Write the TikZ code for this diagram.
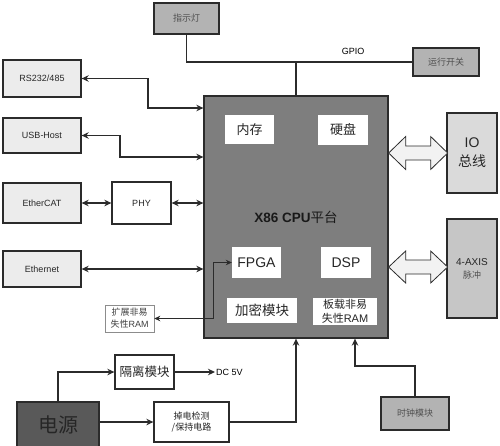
\documentclass[tikz,border=0pt]{standalone}
\usepackage{fontspec}
\setmainfont{Liberation Sans}
\newfontfamily\cjk{Noto Sans CJK SC}
\usetikzlibrary{arrows.meta,calc}
\definecolor{cpugray}{HTML}{7E7E7E}
\definecolor{pwrgray}{HTML}{595959}
\definecolor{midgray}{HTML}{B3B3B3}
\definecolor{axisgray}{HTML}{C6C6C6}
\definecolor{iogray}{HTML}{DADADA}
\definecolor{lightfill}{HTML}{ECECEC}
\definecolor{arrowfill}{HTML}{F2F2F2}
\definecolor{linecol}{HTML}{2B2B2B}
\definecolor{dimtext}{HTML}{505050}
\tikzset{
  box/.style={draw=linecol, line width=1.3pt, inner sep=0pt, align=center, text=black!85},
  lbox/.style={box, fill=lightfill, font=\fontsize{9}{11}\selectfont},
  gbox/.style={box, fill=midgray, text=dimtext, font=\fontsize{9}{11}\selectfont},
  inbox/.style={fill=white, inner sep=0pt, align=center, text=black!85},
  conn/.style={draw=linecol, line width=1.2pt},
  bi/.style={conn, {Stealth[length=7pt,width=6.5pt]}-{Stealth[length=7pt,width=6.5pt]}},
  uni/.style={conn, -{Stealth[length=7pt,width=6.5pt]}},
  thinbi/.style={draw=linecol, line width=0.8pt, {Stealth[length=6pt,width=5.5pt]}-{Stealth[length=6pt,width=5.5pt]}},
  blockarrow/.style={draw=linecol, line width=0.8pt, fill=arrowfill, line join=miter}
}
\begin{document}
\begin{tikzpicture}[x=1pt,y=-1pt]
\fill[white] (0,0) rectangle (500,445);
\useasboundingbox (0,0) rectangle (500,445);

% CPU platform
\node[box, fill=cpugray, minimum width=184pt, minimum height=242pt,
      font=\fontsize{13.5}{16}\selectfont, text=black!90] (cpu) at (296,217)
      {\textbf{X86 CPU}{\cjk 平台}};
\node[inbox, minimum width=49pt, minimum height=29pt, font=\cjk\fontsize{13}{15}\selectfont] (mem) at (249.5,129.5) {内存};
\node[inbox, minimum width=50pt, minimum height=30pt, font=\cjk\fontsize{13}{15}\selectfont] (hdd) at (343,130) {硬盘};
\node[inbox, minimum width=49pt, minimum height=31pt, font=\fontsize{14}{16}\selectfont] (fpga) at (256.5,262.5) {FPGA};
\node[inbox, minimum width=50pt, minimum height=31pt, font=\fontsize{14}{16}\selectfont] (dsp) at (346,262.5) {DSP};
\node[inbox, minimum width=70pt, minimum height=25pt, font=\cjk\fontsize{13.5}{15}\selectfont] (enc) at (262,310.5) {加密模块};
\node[inbox, minimum width=64pt, minimum height=27pt, font=\fontsize{11}{14}\selectfont] (nvram) at (345,311.5) {{\cjk 板载非易}\\{\cjk 失性}RAM};

% top
\node[gbox, minimum width=65pt, minimum height=31pt] (led) at (186.5,18.5) {\cjk 指示灯};
\node[gbox, minimum width=66pt, minimum height=28pt] (run) at (446,62) {\cjk 运行开关};
\node[font=\fontsize{9}{11}\selectfont, inner sep=1pt] (gpio) at (353,51) {GPIO};

% left
\node[lbox, minimum width=78pt, minimum height=37pt] (rs) at (42,78.5) {RS232/485};
\node[lbox, minimum width=78pt, minimum height=35pt] (usb) at (42,135.5) {USB-Host};
\node[lbox, minimum width=78pt, minimum height=40pt] (ecat) at (42,203) {EtherCAT};
\node[box, fill=white, minimum width=59pt, minimum height=42pt, font=\fontsize{9}{11}\selectfont] (phy) at (141.5,203) {PHY};
\node[lbox, minimum width=78pt, minimum height=36pt] (eth) at (42,269) {Ethernet};
\node[draw=black!45, line width=0.6pt, fill=white, inner sep=0pt, align=center, text=black!75,
      minimum width=49pt, minimum height=27pt, font=\fontsize{9}{12}\selectfont] (xram) at (129.5,318.5)
      {{\cjk 扩展非易}\\{\cjk 失性}RAM};

% right
\node[box, fill=iogray, minimum width=50pt, minimum height=80pt, font=\fontsize{14}{19}\selectfont] (io) at (472,153) {IO\\{\cjk 总线}};
\node[box, fill=axisgray, minimum width=50pt, minimum height=99pt, font=\fontsize{10}{13}\selectfont] (axis) at (472,268.5)
      {4-AXIS\\{\cjk\fontsize{9}{13}\selectfont\color{dimtext} 脉冲}};

% bottom
\node[box, fill=white, minimum width=59pt, minimum height=34pt, font=\cjk\fontsize{12.5}{15}\selectfont] (iso) at (144.5,372) {隔离模块};
\node[font=\fontsize{9}{11}\selectfont, anchor=west, inner sep=1pt] (dc) at (215,372) {DC 5V};
\node[box, fill=pwrgray, minimum width=82pt, minimum height=46pt, font=\cjk\fontsize{20}{24}\selectfont, text=black!85] (pwr) at (58,425) {电源};
\node[box, fill=white, minimum width=75pt, minimum height=40pt, font=\cjk\fontsize{9}{11.5}\selectfont] (pd) at (191.5,422) {掉电检测\\/保持电路};
\node[gbox, minimum width=68pt, minimum height=33pt] (clk) at (415,413.5) {\cjk 时钟模块};

% connectors
\draw[conn] (led.south) |- (run.west);
\draw[conn] (cpu.north) -- (cpu.north |- run.west);

\coordinate (rsb) at (148,78.5);
\coordinate (rsc) at (148,108);
\draw[bi] (rs.east) -- (rsb) -- (rsc) -- (cpu.west |- rsc);
\coordinate (usbb) at (120,135.5);
\coordinate (usbc) at (120,157);
\draw[bi] (usb.east) -- (usbb) -- (usbc) -- (cpu.west |- usbc);
\draw[bi] (ecat.east) -- (phy.west);
\draw[bi] (phy.east) -- (cpu.west |- phy.east);
\draw[bi] (eth.east) -- (cpu.west |- eth.east);
\coordinate (fb) at (213,318.5);
\draw[thinbi] (xram.east) -- (fb) |- (fpga.west);

\draw[uni] (pwr.north) |- (iso.west);
\draw[uni] (iso.east) -- (dc.west);
\draw[uni] (pwr.east |- pd.west) -- (pd.west);
\draw[uni] (pd.east) -| (cpu.south);
\coordinate (ck) at (355,366);
\draw[uni] (clk.north) |- (ck) -- (ck |- cpu.south);

% block double arrows
\begin{scope}[shift={(cpu.east |- io.west)}]
\draw[blockarrow] (0,0) -- (17,-16.5) -- (17,-7) -- (42,-7) -- (42,-16.5) -- (59,0)
  -- (42,16.5) -- (42,7) -- (17,7) -- (17,16.5) -- cycle;
\end{scope}
\begin{scope}[shift={($(cpu.east |- axis.west)+(0,-1.5)$)}]
\draw[blockarrow] (0,0) -- (17,-16) -- (17,-7) -- (42,-7) -- (42,-16) -- (59,0)
  -- (42,16) -- (42,7) -- (17,7) -- (17,16) -- cycle;
\end{scope}
\end{tikzpicture}
\end{document}
